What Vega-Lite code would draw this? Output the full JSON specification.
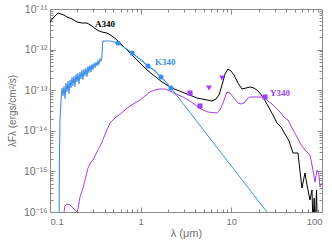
{
  "$schema": "https://vega.github.io/schema/vega-lite/v6.json",
  "width": 272,
  "height": 203,
  "autosize": "none",
  "padding": {"left": 50, "top": 9, "right": 10, "bottom": 28},
  "background": "white",
  "config": {
    "view": {"stroke": "#8a8a8a", "strokeWidth": 1},
    "axis": {"domain": false, "grid": false, "tickColor": "#8a8a8a", "labelColor": "#707070", "titleColor": "#707070", "labelFont": "Liberation Sans", "titleFont": "Liberation Sans", "labelFontSize": 9.5, "titleFontSize": 10, "titleFontWeight": "normal"}
  },
  "datasets": {
    "black": [
      {"x":0.1,"y":4.78e-12},{"x":0.108,"y":6.0e-12},{"x":0.1164,"y":7.11e-12},{"x":0.1225,"y":7.97e-12},{"x":0.132,"y":7.53e-12},{"x":0.1426,"y":7.11e-12},{"x":0.154,"y":6.35e-12},{"x":0.175,"y":5.67e-12},{"x":0.1987,"y":4.78e-12},{"x":0.2255,"y":4.52e-12},{"x":0.256,"y":4.52e-12},{"x":0.2904,"y":3.81e-12},{"x":0.3297,"y":3.04e-12},{"x":0.3745,"y":2.71e-12},{"x":0.4253,"y":2.56e-12},{"x":0.483,"y":2.16e-12},{"x":0.5485,"y":1.72e-12},{"x":0.6227,"y":1.30e-12},{"x":0.7066,"y":9.77e-13},{"x":0.8025,"y":7.36e-13},{"x":0.911,"y":5.54e-13},{"x":1.034,"y":4.18e-13},{"x":1.174,"y":3.15e-13},{"x":1.334,"y":2.51e-13},{"x":1.514,"y":2.0e-13},{"x":1.719,"y":1.59e-13},{"x":1.951,"y":1.34e-13},{"x":2.216,"y":1.13e-13},{"x":2.516,"y":1.01e-13},{"x":2.856,"y":9.03e-14},{"x":3.243,"y":8.06e-14},{"x":3.682,"y":7.2e-14},{"x":4.18,"y":6.43e-14},{"x":4.745,"y":6.07e-14},{"x":5.39,"y":5.74e-14},{"x":6.12,"y":5.42e-14},{"x":6.78,"y":6.07e-14},{"x":7.31,"y":7.62e-14},{"x":7.89,"y":1.34e-13},{"x":8.52,"y":2.51e-13},{"x":9.19,"y":3.33e-13},{"x":9.91,"y":2.97e-13},{"x":10.7,"y":2.37e-13},{"x":11.84,"y":1.5e-13},{"x":13.11,"y":1.07e-13},{"x":14.51,"y":1.13e-13},{"x":16.07,"y":1.2e-13},{"x":17.78,"y":1.13e-13},{"x":19.7,"y":9.56e-14},{"x":22.35,"y":6.8e-14},{"x":25.37,"y":4.08e-14},{"x":28.8,"y":2.45e-14},{"x":31.9,"y":1.56e-14},{"x":35.3,"y":1.24e-14},{"x":39.1,"y":8.34e-15},{"x":43.3,"y":5.61e-15},{"x":47.9,"y":2.84e-15},{"x":54.3,"y":2.84e-15},{"x":60.1,"y":3.9e-16},{"x":64.9,"y":9.14e-16},{"x":68.3,"y":4.62e-16},{"x":73.7,"y":1.98e-16},{"x":77.6,"y":3.48e-16},{"x":79.5,"y":5e-17},{"x":82,"y":2.2e-16},{"x":84,"y":3e-17},{"x":87,"y":3.5e-16},{"x":89,"y":3e-17}
    ],
    "purple": [
      {"x":0.139,"y":3e-17},{"x":0.1427,"y":1e-16},{"x":0.1463,"y":1.41e-16},{"x":0.154,"y":1.57e-16},{"x":0.1662,"y":1.49e-16},{"x":0.1793,"y":1.26e-16},{"x":0.1935,"y":1.06e-16},{"x":0.1987,"y":1e-16},{"x":0.2035,"y":1.19e-16},{"x":0.2143,"y":2.34e-16},{"x":0.2312,"y":3.9e-16},{"x":0.2432,"y":6.14e-16},{"x":0.2624,"y":1.21e-15},{"x":0.2831,"y":1.71e-15},{"x":0.298,"y":1.91e-15},{"x":0.3215,"y":2.69e-15},{"x":0.3384,"y":3.36e-15},{"x":0.3559,"y":4.22e-15},{"x":0.3745,"y":5.3e-15},{"x":0.394,"y":7.03e-15},{"x":0.4253,"y":1.05e-14},{"x":0.4588,"y":1.56e-14},{"x":0.521,"y":2.07e-14},{"x":0.5916,"y":2.59e-14},{"x":0.672,"y":3.25e-14},{"x":0.7627,"y":4.08e-14},{"x":0.866,"y":4.84e-14},{"x":0.983,"y":5.74e-14},{"x":1.116,"y":7.2e-14},{"x":1.267,"y":9.03e-14},{"x":1.439,"y":1.01e-13},{"x":1.634,"y":1.07e-13},{"x":1.855,"y":1.07e-13},{"x":2.106,"y":9.56e-14},{"x":2.453,"y":8.06e-14},{"x":2.93,"y":6.8e-14},{"x":3.5,"y":5.42e-14},{"x":4.29,"y":3.86e-14},{"x":4.87,"y":3.25e-14},{"x":5.53,"y":2.9e-14},{"x":6.95,"y":2.74e-14},{"x":7.5,"y":3.25e-14},{"x":8.09,"y":4.84e-14},{"x":8.96,"y":9.03e-14},{"x":9.66,"y":8.53e-14},{"x":10.7,"y":6.43e-14},{"x":11.84,"y":4.84e-14},{"x":12.79,"y":4.57e-14},{"x":13.8,"y":4.84e-14},{"x":14.89,"y":6.07e-14},{"x":16.07,"y":6.8e-14},{"x":17.78,"y":6.8e-14},{"x":20.18,"y":6.8e-14},{"x":22.9,"y":6.8e-14},{"x":25.37,"y":5.42e-14},{"x":28.08,"y":4.57e-14},{"x":31.1,"y":3.65e-14},{"x":34.4,"y":2.9e-14},{"x":38.1,"y":2.19e-14},{"x":42.2,"y":1.85e-14},{"x":47.9,"y":1.05e-14},{"x":53.0,"y":7.03e-15},{"x":57.2,"y":5.01e-15},{"x":64.9,"y":3.36e-15},{"x":73.7,"y":2.54e-15},{"x":79.5,"y":1.08e-15},{"x":83.7,"y":5.48e-16},{"x":88.1,"y":1.08e-15},{"x":92.6,"y":8.15e-16},{"x":95.0,"y":4.13e-16},{"x":100,"y":5.18e-16}
    ],
    "blue": [
      {"x":0.1257,"y":3e-17},{"x":0.1273,"y":3.36e-15},{"x":0.12894,"y":1.845e-14},{"x":0.13225,"y":5.74e-14},{"x":0.13565,"y":1.133e-13},{"x":0.13914,"y":7.2e-14},{"x":0.14271,"y":1.269e-13},{"x":0.14638,"y":6.07e-14},{"x":0.15014,"y":1.504e-13},{"x":0.154,"y":9.03e-14},{"x":0.15795,"y":1.685e-13},{"x":0.16201,"y":8.06e-14},{"x":0.16617,"y":1.783e-13},{"x":0.17044,"y":1.133e-13},{"x":0.17482,"y":2.113e-13},{"x":0.17931,"y":1.269e-13},{"x":0.18392,"y":2.238e-13},{"x":0.18864,"y":1.199e-13},{"x":0.19349,"y":2.506e-13},{"x":0.19846,"y":1.592e-13},{"x":0.20356,"y":2.653e-13},{"x":0.20879,"y":1.421e-13},{"x":0.21415,"y":2.808e-13},{"x":0.21965,"y":1.888e-13},{"x":0.2253,"y":3.145e-13},{"x":0.23108,"y":1.783e-13},{"x":0.23702,"y":3.329e-13},{"x":0.24311,"y":2.238e-13},{"x":0.24936,"y":3.522e-13},{"x":0.25576,"y":2.113e-13},{"x":0.26233,"y":3.944e-13},{"x":0.26907,"y":2.653e-13},{"x":0.27598,"y":4.175e-13},{"x":0.28307,"y":2.808e-13},{"x":0.29034,"y":4.418e-13},{"x":0.2978,"y":3.145e-13},{"x":0.30545,"y":4.677e-13},{"x":0.3133,"y":3.522e-13},{"x":0.32135,"y":4.95e-13},{"x":0.3296,"y":3.944e-13},{"x":0.33806,"y":5.24e-13},{"x":0.34675,"y":4.418e-13},{"x":0.35566,"y":5.868e-13},{"x":0.36479,"y":5.24e-13},{"x":0.37416,"y":6.57e-13},{"x":0.3794,"y":1.3e-12},{"x":0.3842,"y":1.63e-12},{"x":0.4146,"y":1.63e-12},{"x":0.4588,"y":1.63e-12},{"x":0.508,"y":1.54e-12},{"x":0.5623,"y":1.455e-12},{"x":0.672,"y":1.1e-12},{"x":0.8025,"y":8.25e-13},{"x":0.983,"y":5.86e-13},{"x":1.205,"y":3.94e-13},{"x":1.439,"y":2.97e-13},{"x":1.676,"y":2.11e-13},{"x":1.903,"y":1.59e-13},{"x":2.16,"y":1.13e-13}
    ],
    "rj": [
      {"x":2.16,"y":1.13e-13},{"x":24.7,"y":1e-16}
    ],
    "kpts": [
      {"x":0.5623,"y":1.455e-12},{"x":0.8025,"y":8.25e-13},{"x":1.205,"y":3.94e-13},{"x":1.676,"y":2.11e-13},{"x":2.16,"y":1.13e-13}
    ],
    "ypts": [
      {"x":3.5,"y":8.53e-14},{"x":4.51,"y":4.08e-14},{"x":23.5,"y":6.8e-14}
    ],
    "ytri": [
      {"x":5.67,"y":1.13e-13},{"x":7.89,"y":2.0e-13}
    ],
    "labels": [
      {"x":0.3134,"y":3.6e-12,"text":"A340","c":"A"},
      {"x":1.439,"y":4.18e-13,"text":"K340","c":"K"},
      {"x":26.7,"y":7.19e-14,"text":"Y340","c":"Y"}
    ]
  },
  "layer": [
    {
      "data": {"name": "black"},
      "mark": {"type": "line", "color": "black", "strokeWidth": 1, "clip": true},
      "encoding": {
        "x": {"field": "x", "type": "quantitative", "scale": {"type": "log", "domain": [0.1, 100]},
          "axis": {"orient": "bottom", "values": [0.1, 1, 10, 100], "format": "~g", "tickSize": -5, "labelPadding": 9, "title": "λ (μm)", "titleFontSize": 11, "titlePadding": 2}},
        "y": {"field": "y", "type": "quantitative", "scale": {"type": "log", "domain": [1e-16, 1e-11]},
          "axis": {"orient": "left", "values": [1e-16, 1e-15, 1e-14, 1e-13, 1e-12, 1e-11], "tickSize": -5, "labelPadding": 8, "labelFontSize": 10.5,
            "labelExpr": "datum.value < 5e-16 ? '10⁻¹⁶' : datum.value < 5e-15 ? '10⁻¹⁵' : datum.value < 5e-14 ? '10⁻¹⁴' : datum.value < 5e-13 ? '10⁻¹³' : datum.value < 5e-12 ? '10⁻¹²' : '10⁻¹¹'",
            "title": "λFλ (ergs/cm²/s)", "titlePadding": 6}}
      }
    },
    {
      "data": {"name": "purple"},
      "mark": {"type": "line", "color": "#a040f0", "strokeWidth": 1, "clip": true},
      "encoding": {
        "x": {"field": "x", "type": "quantitative",
          "axis": {"orient": "bottom", "values": [0.2,0.3,0.4,0.5,0.6,0.7,0.8,0.9,2,3,4,5,6,7,8,9,20,30,40,50,60,70,80,90], "tickSize": -3, "labels": false, "title": null}},
        "y": {"field": "y", "type": "quantitative",
          "axis": {"orient": "left", "values": [2e-16,3e-16,4e-16,5e-16,6e-16,7e-16,8e-16,9e-16,2e-15,3e-15,4e-15,5e-15,6e-15,7e-15,8e-15,9e-15,2e-14,3e-14,4e-14,5e-14,6e-14,7e-14,8e-14,9e-14,2e-13,3e-13,4e-13,5e-13,6e-13,7e-13,8e-13,9e-13,2e-12,3e-12,4e-12,5e-12,6e-12,7e-12,8e-12,9e-12], "tickSize": -3, "labels": false, "title": null}}
      }
    },
    {
      "data": {"name": "blue"},
      "mark": {"type": "line", "color": "#3d8ee8", "strokeWidth": 1.1, "clip": true},
      "encoding": {
        "x": {"field": "x", "type": "quantitative",
          "axis": {"orient": "top", "values": [0.1, 1, 10, 100], "tickSize": -5, "labels": false, "title": null}},
        "y": {"field": "y", "type": "quantitative",
          "axis": {"orient": "right", "values": [1e-16, 1e-15, 1e-14, 1e-13, 1e-12, 1e-11], "tickSize": -5, "labels": false, "title": null}}
      }
    },
    {
      "data": {"name": "rj"},
      "mark": {"type": "line", "color": "#3d8ee8", "strokeWidth": 1, "clip": true},
      "encoding": {
        "x": {"field": "x", "type": "quantitative",
          "axis": {"orient": "top", "values": [0.2,0.3,0.4,0.5,0.6,0.7,0.8,0.9,2,3,4,5,6,7,8,9,20,30,40,50,60,70,80,90], "tickSize": -3, "labels": false, "title": null}},
        "y": {"field": "y", "type": "quantitative",
          "axis": {"orient": "right", "values": [2e-16,3e-16,4e-16,5e-16,6e-16,7e-16,8e-16,9e-16,2e-15,3e-15,4e-15,5e-15,6e-15,7e-15,8e-15,9e-15,2e-14,3e-14,4e-14,5e-14,6e-14,7e-14,8e-14,9e-14,2e-13,3e-13,4e-13,5e-13,6e-13,7e-13,8e-13,9e-13,2e-12,3e-12,4e-12,5e-12,6e-12,7e-12,8e-12,9e-12], "tickSize": -3, "labels": false, "title": null}}
      }
    },
    {
      "data": {"name": "kpts"},
      "mark": {"type": "point", "shape": "circle", "filled": true, "color": "#3d8ee8", "size": 26, "opacity": 1},
      "encoding": {
        "x": {"field": "x", "type": "quantitative", "axis": null},
        "y": {"field": "y", "type": "quantitative", "axis": null}
      }
    },
    {
      "data": {"name": "ypts"},
      "mark": {"type": "point", "shape": "square", "filled": true, "color": "#a040f0", "size": 26, "opacity": 1},
      "encoding": {
        "x": {"field": "x", "type": "quantitative", "axis": null},
        "y": {"field": "y", "type": "quantitative", "axis": null}
      }
    },
    {
      "data": {"name": "ytri"},
      "mark": {"type": "point", "shape": "triangle-down", "filled": true, "color": "#a040f0", "size": 34, "opacity": 1},
      "encoding": {
        "x": {"field": "x", "type": "quantitative", "axis": null},
        "y": {"field": "y", "type": "quantitative", "axis": null}
      }
    },
    {
      "data": {"name": "labels"},
      "mark": {"type": "text", "font": "Liberation Serif", "fontWeight": "bold", "fontSize": 9, "align": "left", "baseline": "alphabetic"},
      "encoding": {
        "x": {"field": "x", "type": "quantitative", "axis": null},
        "y": {"field": "y", "type": "quantitative", "axis": null},
        "text": {"field": "text"},
        "color": {"field": "c", "type": "nominal", "scale": {"domain": ["A", "K", "Y"], "range": ["black", "#3d8ee8", "#a040f0"]}, "legend": null}
      }
    }
  ],
  "resolve": {"axis": {"x": "independent", "y": "independent"}}
}
